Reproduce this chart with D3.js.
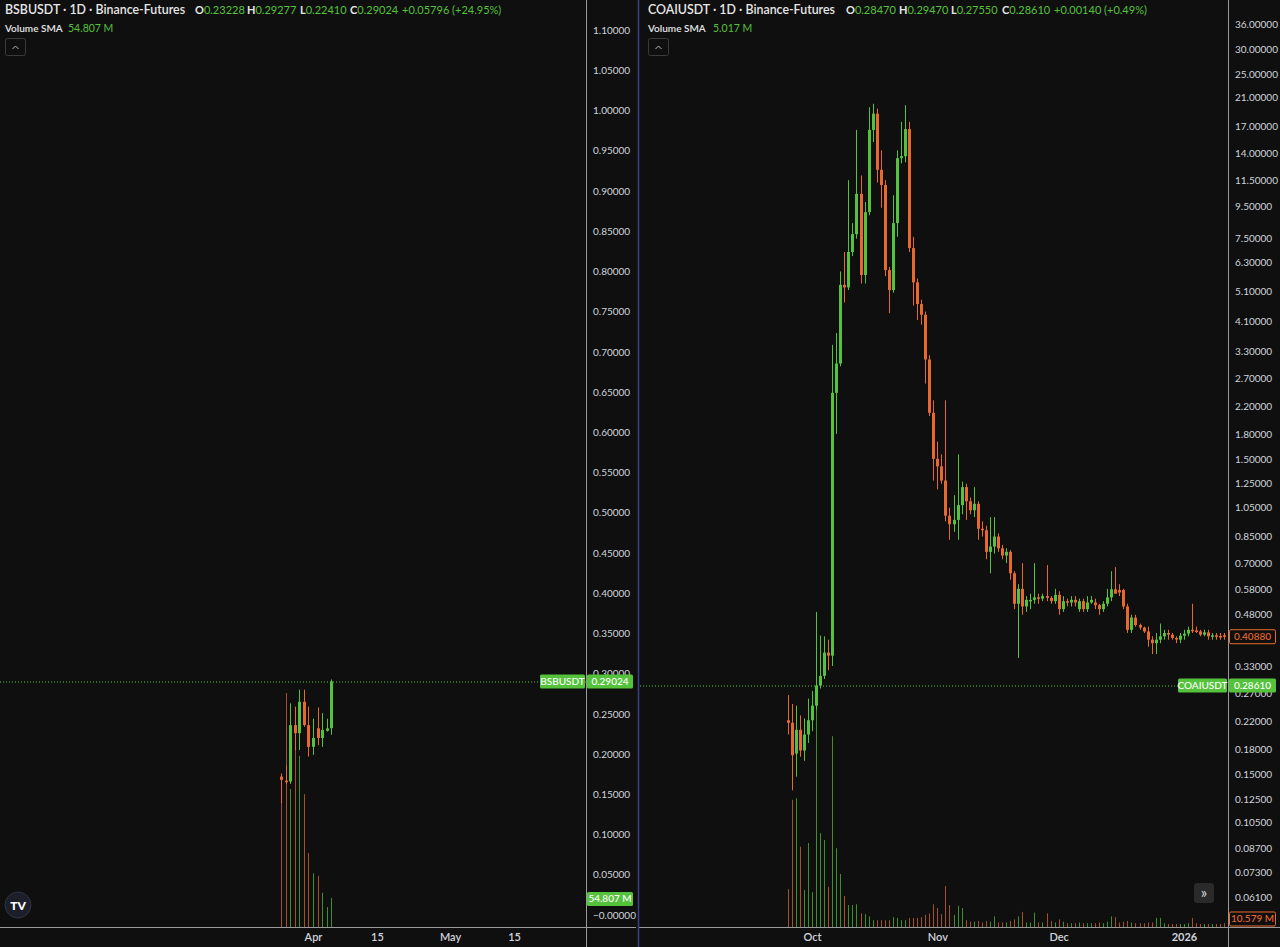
<!DOCTYPE html>
<html><head><meta charset="utf-8">
<script src="https://cdn.jsdelivr.net/npm/d3@7"></script>
<style>
html,body{margin:0;padding:0;background:#0f0f0f;}
svg{display:block;}
</style></head><body>
<svg id="c" width="1280" height="947"></svg>
<script>
// ---------------- LEFT: BSBUSDT ----------------
const leftDates = ["2025-03-25","2025-03-26","2025-03-27","2025-03-28","2025-03-29","2025-03-30","2025-03-31","2025-04-01","2025-04-02","2025-04-03","2025-04-04","2025-04-05"];
const leftOpen  = [0.172,0.167,0.166,0.236,0.226,0.265,0.236,0.209,0.232,0.220,0.229,0.23228];
const leftHigh  = [0.176,0.186,0.263,0.259,0.280,0.280,0.259,0.244,0.258,0.251,0.244,0.29277];
const leftLow   = [0.139,0.163,0.163,0.205,0.205,0.234,0.197,0.199,0.211,0.209,0.228,0.22410];
const leftClose = [0.168,0.165,0.236,0.226,0.265,0.236,0.209,0.220,0.220,0.230,0.232,0.29024];
const leftVolume = [260,458,270,360,335,260,145,105,100,67,39,57]; // millions
const leftPriceTicks = [1.10,1.05,1.00,0.95,0.90,0.85,0.80,0.75,0.70,0.65,0.60,0.55,0.50,0.45,0.40,0.35,0.30,0.25,0.20,0.15,0.10,0.05,0.00];
const leftDateTicks = ["2025-04-01","2025-04-15","2025-05-01","2025-05-15"];
const leftDateLabels = ["Apr","15","May","15"];

// ---------------- RIGHT: COAIUSDT ----------------
const rightStart = "2025-09-25", rightEnd = "2026-01-12";
const rightOpen = [0.222,0.218,0.174,0.207,0.178,0.200,0.222,0.247,0.286,0.307,0.364,0.356,2.43,3.01,5.35,5.25,6.80,7.75,10.4,5.75,9.10,16.6,18.7,12.4,11.1,5.96,5.15,8.40,13.5,13.7,16.7,7.00,5.45,4.65,4.30,3.10,2.10,1.50,1.42,1.28,0.99,0.93,0.96,1.07,1.22,1.10,1.03,1.08,0.90,0.89,0.76,0.79,0.85,0.78,0.74,0.76,0.65,0.52,0.58,0.51,0.530,0.535,0.545,0.540,0.550,0.543,0.530,0.555,0.500,0.530,0.525,0.535,0.500,0.530,0.500,0.525,0.525,0.515,0.500,0.520,0.545,0.578,0.575,0.575,0.510,0.430,0.470,0.445,0.437,0.425,0.400,0.390,0.400,0.410,0.420,0.415,0.405,0.400,0.412,0.418,0.430,0.428,0.425,0.415,0.422,0.410,0.413,0.411,0.413];
const rightHigh = [0.267,0.250,0.247,0.230,0.225,0.260,0.275,0.490,0.412,0.410,0.400,3.45,3.76,5.90,6.80,11.5,8.40,16.6,11.9,9.80,19.6,20.1,19.4,14.3,11.5,6.10,10.3,14.3,17.6,19.9,17.6,7.60,5.60,4.80,4.40,3.20,2.30,1.70,1.55,2.30,1.05,1.15,1.55,1.27,1.25,1.13,1.22,1.10,0.95,0.92,0.98,0.98,0.87,0.80,0.78,0.77,0.66,0.60,0.70,0.55,0.56,0.70,0.56,0.56,0.69,0.55,0.58,0.57,0.55,0.54,0.55,0.55,0.54,0.54,0.55,0.55,0.54,0.52,0.53,0.58,0.66,0.68,0.60,0.58,0.52,0.48,0.48,0.45,0.44,0.44,0.41,0.42,0.45,0.43,0.43,0.42,0.41,0.42,0.43,0.44,0.52,0.44,0.43,0.43,0.43,0.42,0.42,0.42,0.42];
const rightLow = [0.200,0.133,0.147,0.170,0.165,0.188,0.205,0.240,0.280,0.300,0.320,0.330,1.80,2.95,4.70,5.15,6.60,7.50,5.40,5.40,8.90,15.2,11.3,9.40,5.70,4.35,5.05,7.60,13.0,13.1,6.80,4.60,4.14,4.00,2.60,2.05,1.28,1.20,1.25,0.95,0.83,0.88,0.83,1.00,0.96,1.00,0.98,0.83,0.85,0.72,0.65,0.75,0.76,0.72,0.70,0.62,0.50,0.35,0.48,0.49,0.50,0.52,0.52,0.53,0.53,0.52,0.52,0.48,0.49,0.51,0.51,0.51,0.49,0.49,0.49,0.52,0.50,0.48,0.49,0.51,0.53,0.56,0.55,0.50,0.42,0.42,0.44,0.43,0.42,0.38,0.36,0.36,0.39,0.40,0.40,0.40,0.39,0.39,0.40,0.41,0.42,0.42,0.41,0.41,0.40,0.40,0.40,0.40,0.40];
const rightClose = [0.218,0.172,0.207,0.178,0.200,0.222,0.247,0.286,0.307,0.364,0.356,2.43,3.01,5.35,5.25,6.80,7.75,10.4,5.75,9.10,16.6,18.7,12.4,11.1,5.96,5.15,8.40,13.5,13.7,16.7,7.00,5.45,4.65,4.30,3.10,2.10,1.50,1.42,1.28,0.99,0.93,0.96,1.07,1.22,1.10,1.03,1.08,0.90,0.89,0.76,0.79,0.85,0.78,0.74,0.76,0.65,0.52,0.58,0.51,0.535,0.535,0.545,0.540,0.550,0.543,0.530,0.555,0.500,0.530,0.525,0.535,0.525,0.530,0.500,0.525,0.535,0.515,0.500,0.520,0.545,0.578,0.560,0.565,0.510,0.430,0.470,0.445,0.437,0.425,0.400,0.390,0.400,0.410,0.420,0.415,0.405,0.403,0.412,0.418,0.430,0.428,0.425,0.415,0.422,0.410,0.413,0.411,0.410,0.4088];
const rightVolume = [50,168,170,106,49,111,46,300,124,115,53,252,104,70,41,29,29,30,18,17,14,9,9,9,9,9,13,12,9,9,12,12,12,13,16,18,30,25,17,54,29,16,28,25,9,7,7,8,6,8,7,14,6,6,6,8,10,14,20,6,6,19,6,6,18,8,6,10,7,5,5,5,6,5,5,5,5,6,5,7,14,13,6,7,8,6,5,5,5,6,6,12,12,5,4,4,4,4,4,5,12,5,4,4,4,4,4,4,5];
const rightPriceTicks = [44,36,30,25,21,17,14,11.5,9.5,7.5,6.3,5.1,4.1,3.3,2.7,2.2,1.8,1.5,1.25,1.05,0.85,0.70,0.58,0.48,0.33,0.27,0.22,0.18,0.15,0.125,0.105,0.087,0.073,0.061];
const rightDateTicks = ["2025-10-01","2025-11-01","2025-12-01","2026-01-01"];
const rightDateLabels = ["Oct","Nov","Dec","2026"];

const UP = "#55c23c", DOWN = "#e8692d";
const VOL_UP = "#3f8f2e", VOL_DOWN = "#a4502a";
const FONT = "Lato, 'Open Sans', sans-serif";
const AX = "#d1d4dc";

const svg = d3.select("#c");
svg.append("rect").attr("width",1280).attr("height",947).attr("fill","#0f0f0f");
const parse = d3.timeParse("%Y-%m-%d");

function pane(cfg){
  const g = svg.append("g");
  const x = cfg.x, y = cfg.y, vy = cfg.vy;
  const data = cfg.dates.map((d,i)=>({d, o:cfg.o[i], h:cfg.h[i], l:cfg.l[i], c:cfg.c[i], v:cfg.v[i]}));
  g.append("line").attr("x1",cfg.left).attr("x2",cfg.axisX).attr("y1",y(cfg.last)+0.5).attr("y2",y(cfg.last)+0.5)
    .attr("stroke",UP).attr("stroke-dasharray","1,2").attr("stroke-width",1);
  g.selectAll(".vol").data(data).enter().append("line")
    .attr("x1",d=>Math.round(x(d.d))+0.5).attr("x2",d=>Math.round(x(d.d))+0.5)
    .attr("y1",vy(0)).attr("y2",d=>vy(d.v))
    .attr("stroke",d=>d.c>=d.o?VOL_UP:VOL_DOWN).attr("stroke-width",1);
  g.selectAll(".wick").data(data).enter().append("line")
    .attr("x1",d=>Math.round(x(d.d))+0.5).attr("x2",d=>Math.round(x(d.d))+0.5)
    .attr("y1",d=>y(d.h)).attr("y2",d=>y(d.l))
    .attr("stroke",d=>d.c>=d.o?UP:DOWN).attr("stroke-width",1);
  g.selectAll(".body").data(data).enter().append("rect")
    .attr("x",d=>Math.round(x(d.d))-1).attr("width",3)
    .attr("y",d=>Math.min(y(d.o),y(d.c)))
    .attr("height",d=>Math.max(1.5,Math.abs(y(d.o)-y(d.c))))
    .attr("fill",d=>d.c>=d.o?UP:DOWN);
  const ax = d3.axisRight(y).tickValues(cfg.priceTicks).tickSize(0).tickPadding(6).tickFormat(cfg.fmt);
  const axg = svg.append("g").attr("transform",`translate(${cfg.axisX},0)`).call(ax);
  axg.select(".domain").remove();
  axg.selectAll("text").attr("fill",AX).attr("font-size","10px").attr("font-family",FONT);
  const dx = d3.axisBottom(x).tickValues(cfg.dateTicks.map(parse)).tickSize(0).tickPadding(6)
    .tickFormat((d,i)=>cfg.dateLabels[i]);
  const dxg = svg.append("g").attr("transform","translate(0,927)").call(dx);
  dxg.select(".domain").remove();
  dxg.selectAll("text").attr("fill",AX).attr("font-size","11px").attr("font-family",FONT)
    .attr("font-weight",(d,i)=>cfg.dateLabels[i]==="2026"?700:600);
}

const xL = d3.scaleTime().domain([parse("2025-04-01"),parse("2025-05-15")]).range([313,514]);
const yL = d3.scaleLinear().domain([0,1.1]).range([915,30]);
const vL = d3.scaleLinear().domain([0,458]).range([927,693]);
pane({x:xL,y:yL,vy:vL,left:0,axisX:587,last:leftClose[leftClose.length-1],
  dates:leftDates.map(parse),o:leftOpen,h:leftHigh,l:leftLow,c:leftClose,v:leftVolume,
  priceTicks:leftPriceTicks,fmt:d=>d===0?"\u22120.00000":d.toFixed(5),
  dateTicks:leftDateTicks,dateLabels:leftDateLabels});

const rDates = d3.timeDay.range(parse(rightStart),parse(rightEnd));
const xR = d3.scaleTime().domain([parse("2025-10-01"),parse("2026-01-01")]).range([812,1184]);
const yR = d3.scaleLog().domain([36,0.061]).range([24,897]);
const vR = d3.scaleLinear().domain([0,313]).range([927,690]);
pane({x:xR,y:yR,vy:vR,left:640,axisX:1229,last:0.28610,
  dates:rDates,o:rightOpen,h:rightHigh,l:rightLow,c:rightClose,v:rightVolume,
  priceTicks:rightPriceTicks,fmt:d=>d.toFixed(5),
  dateTicks:rightDateTicks,dateLabels:rightDateLabels});

svg.append("line").attr("x1",0).attr("x2",1280).attr("y1",927.5).attr("y2",927.5).attr("stroke","#9a9a9a").attr("stroke-width",1);
svg.append("line").attr("x1",586.5).attr("x2",586.5).attr("y1",0).attr("y2",947).attr("stroke","#9a9a9a");
svg.append("line").attr("x1",1228.5).attr("x2",1228.5).attr("y1",0).attr("y2",947).attr("stroke","#9a9a9a");
svg.append("rect").attr("x",636).attr("y",0).attr("width",3).attr("height",947).attr("fill","#0f0f0f");
svg.append("line").attr("x1",638.5).attr("x2",638.5).attr("y1",0).attr("y2",947).attr("stroke","#3d3f86").attr("stroke-width",1.5);

function label(x,y,w,txt,opt){
  const g = svg.append("g");
  g.append("rect").attr("x",x).attr("y",y-7).attr("width",w).attr("height",14).attr("rx",1.5)
    .attr("fill",opt.fill).attr("stroke",opt.stroke||"none");
  g.append("text").attr("x",x+w/2).attr("y",y+3.5).attr("text-anchor","middle")
    .attr("fill",opt.color).attr("font-size","10px").attr("font-family",FONT).attr("font-weight",500).text(txt);
}
label(540,yL(0.29024),45,"BSBUSDT",{fill:UP,color:"#fff"});
label(587,yL(0.29024),46,"0.29024",{fill:UP,color:"#fff"});
label(587,vL(54.807),46,"54.807 M",{fill:UP,color:"#fff"});
label(1178,yR(0.28610),49,"COAIUSDT",{fill:UP,color:"#fff"});
label(1229,yR(0.28610),47,"0.28610",{fill:UP,color:"#fff"});
label(1229.5,yR(0.4088),46,"0.40880",{fill:"#0f0f0f",stroke:DOWN,color:DOWN});
label(1229.5,vR(10.579),46,"10.579 M",{fill:"#0f0f0f",stroke:DOWN,color:DOWN});

function header(x0, title, xs, vals, change, sma, smaX){
  svg.append("text").attr("x",x0).attr("y",14).attr("fill","#e6e6e6").attr("font-family",FONT)
    .attr("font-size","12.4px").attr("font-weight",600).text(title);
  const keys = ["O","H","L","C"];
  keys.forEach((k,i)=>{
    const tt = svg.append("text").attr("x",xs[i]).attr("y",14).attr("font-family",FONT).attr("font-size","11px");
    tt.append("tspan").attr("fill","#e6e6e6").attr("font-weight",700).text(k);
    tt.append("tspan").attr("fill",UP).text(vals[i]);
  });
  svg.append("text").attr("x",xs[4]).attr("y",14).attr("font-family",FONT).attr("font-size","11px").attr("fill",UP).text(change);
  svg.append("text").attr("x",x0).attr("y",32).attr("font-family",FONT).attr("font-size","10px")
    .attr("fill","#e6e6e6").attr("font-weight",600).text("Volume SMA");
  svg.append("text").attr("x",smaX).attr("y",32).attr("font-family",FONT).attr("font-size","10.5px")
    .attr("fill",UP).text(sma);
  svg.append("rect").attr("x",x0+0.5).attr("y",38.5).attr("width",20).attr("height",17).attr("rx",2)
    .attr("fill","none").attr("stroke","#3a3a3a");
  svg.append("path").attr("d",`M${x0+7.5},49 L${x0+10.5},46 L${x0+13.5},49`).attr("fill","none").attr("stroke","#bbb").attr("stroke-width",1);
}
header(5,"BSBUSDT · 1D · Binance-Futures",[195,247,300,350,402],["0.23228","0.29277","0.22410","0.29024"],"+0.05796 (+24.95%)","54.807 M",68);
header(648,"COAIUSDT · 1D · Binance-Futures",[846,899,951,1002,1054],["0.28470","0.29470","0.27550","0.28610"],"+0.00140 (+0.49%)","5.017 M",713);

svg.append("circle").attr("cx",18).attr("cy",905).attr("r",13).attr("fill","#1c1f2a").attr("stroke","#2f3340");
svg.append("text").attr("x",18).attr("y",909.5).attr("text-anchor","middle").attr("fill","#fff")
  .attr("font-family",FONT).attr("font-weight",900).attr("font-size","12px").text("TV");
svg.append("rect").attr("x",1194).attr("y",883).attr("width",20).attr("height",20).attr("rx",3).attr("fill","#2a2a2a");
svg.append("text").attr("x",1204).attr("y",898).attr("text-anchor","middle").attr("fill","#ddd")
  .attr("font-family",FONT).attr("font-size","15px").text("»");
</script>
</body></html>
